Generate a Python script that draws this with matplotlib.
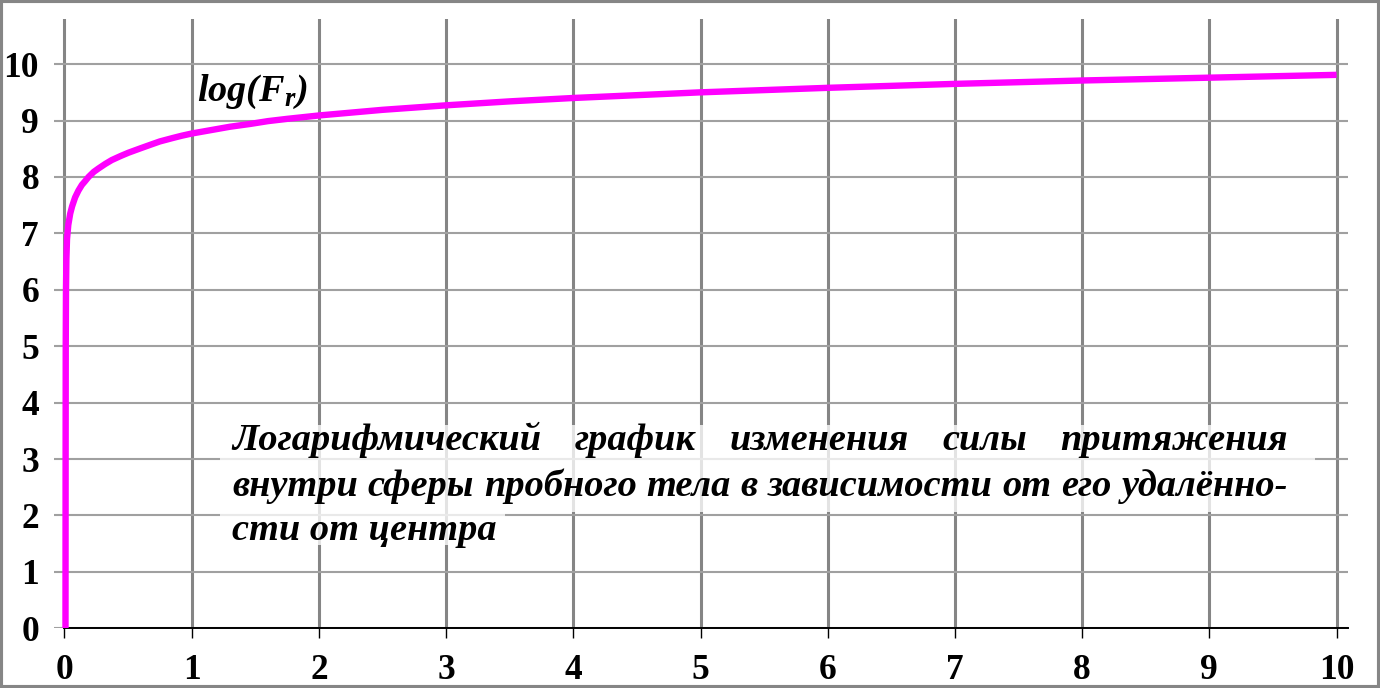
import matplotlib
matplotlib.use("Agg")
import matplotlib.pyplot as plt
import matplotlib.transforms as mtransforms
from matplotlib.patches import Rectangle

# ---- data ----
r_values = [0.008, 0.009, 0.010, 0.012, 0.015, 0.020, 0.030, 0.045, 0.060, 0.084,
            0.11, 0.137, 0.16, 0.189, 0.23, 0.267, 0.32, 0.372, 0.44, 0.503,
            0.60, 0.687, 0.75, 0.85, 0.92, 1.0, 1.1, 1.2, 1.3, 1.46,
            1.6, 1.75, 2.0, 2.25, 2.5, 2.75, 3.0, 3.5, 4.0, 4.5,
            5.0, 6.0, 7.0, 8.0, 9.0, 10.0]
log_f = [0.0, 3.0, 5.0, 6.0, 6.55, 6.9, 7.15, 7.35, 7.48, 7.64,
         7.76, 7.86, 7.92, 8.0, 8.09, 8.15, 8.23, 8.30, 8.37, 8.43,
         8.51, 8.58, 8.63, 8.69, 8.73, 8.77, 8.81, 8.85, 8.89, 8.94,
         8.99, 9.03, 9.09, 9.14, 9.19, 9.23, 9.27, 9.34, 9.40, 9.45,
         9.50, 9.58, 9.65, 9.71, 9.76, 9.81]
x_ticks = [0, 1, 2, 3, 4, 5, 6, 7, 8, 9, 10]
y_ticks = [0, 1, 2, 3, 4, 5, 6, 7, 8, 9, 10]
curve_label = r"log(F$_{r}$)"
caption_lines = [
    "Логарифмический график изменения силы притяжения",
    "внутри сферы пробного тела в зависимости от его удалённо-",
    "сти от центра",
]

plt.rcParams["mathtext.fontset"] = "custom"
plt.rcParams["mathtext.it"] = "Liberation Serif:italic:bold"
plt.rcParams["mathtext.rm"] = "Liberation Serif:bold"
plt.rcParams["mathtext.bf"] = "Liberation Serif:bold"

W, H = 1380, 688
fig = plt.figure(figsize=(W / 100, H / 100), dpi=100)
fig.patch.set_facecolor("white")

ax_left_px, ax_right_px, ax_top_px, ax_bot_px = 54.3, 1348.0, 19.0, 628.3
ax = fig.add_axes([ax_left_px / W, 1 - ax_bot_px / H,
                   (ax_right_px - ax_left_px) / W, (ax_bot_px - ax_top_px) / H])
ax.set_xlim(-0.08, 10.09)
ax.set_ylim(0, 10.8)
ax.set_facecolor("white")

# grid
ax.set_axisbelow(True)
ax.set_xticks(x_ticks)
ax.set_yticks(y_ticks)
ax.xaxis.grid(True, color="#858585", linewidth=2.2)
ax.yaxis.grid(True, color="#a0a0a0", linewidth=1.5)

for s in ["left", "top", "right"]:
    ax.spines[s].set_visible(False)
ax.spines["bottom"].set_color("black")
ax.spines["bottom"].set_linewidth(1.4)
ax.spines["bottom"].set_bounds(0, 10.09)
ax.spines["bottom"].set_zorder(3)

tick_font = dict(family="Liberation Serif", weight="bold", size=25.5)
ax.set_xticklabels([str(v) for v in x_ticks], **tick_font)
ax.set_yticklabels([str(v) for v in y_ticks], **tick_font)
ax.tick_params(axis="x", direction="out", length=7.2, width=1.0, color="black", pad=11)
ax.tick_params(axis="y", length=0, pad=11)

# curve
ax.plot(r_values, log_f, color="#ff00ff", linewidth=4.6, solid_capstyle="butt",
        solid_joinstyle="round", zorder=4)

# semi-transparent white background behind caption
def px2data(px, py):
    return ax.transData.inverted().transform((px, H - py))

fig.canvas.draw()
(bx0, by0) = px2data(220, 512)
(bx1, by1) = px2data(1315, 425)
ax.add_patch(Rectangle((bx0, by0), bx1 - bx0, by1 - by0, facecolor="white",
                       edgecolor="none", alpha=0.78, zorder=2.5))
(cx0, cy0) = px2data(220, 545)
(cx1, cy1) = px2data(505, 512)
ax.add_patch(Rectangle((cx0, cy0), cx1 - cx0, cy1 - cy0, facecolor="white",
                       edgecolor="none", alpha=0.78, zorder=2.5))

# curve label
lx, ly = px2data(197, 101)
ax.text(lx, ly, curve_label, family="Liberation Serif", weight="bold",
        style="italic", size=27.5, va="baseline", ha="left", zorder=5)

# caption (justified lines); font size fitted so line 2 fills its width
renderer = fig.canvas.get_renderer()
ident = mtransforms.IdentityTransform()
left_px, right_px = 232, 1288
base_size = 25.0
probe = fig.text(0, 0, caption_lines[1], transform=ident, family="Liberation Serif",
                 weight="bold", style="italic", size=base_size)
natural = probe.get_window_extent(renderer).width
probe.remove()
cap_size = base_size * (right_px - left_px) / natural
cap_font = dict(family="Liberation Serif", weight="bold", style="italic", size=cap_size)
baselines = [450, 495.5, 540]
for i, (line, bl) in enumerate(zip(caption_lines, baselines)):
    words = line.split(" ")
    if i < 2:
        arts = [fig.text(0, 0, w, transform=ident, va="baseline", ha="left",
                         zorder=6, **cap_font) for w in words]
        widths = [a.get_window_extent(renderer).width for a in arts]
        gap = (right_px - left_px - sum(widths)) / (len(words) - 1)
        x = left_px
        for a, w in zip(arts, widths):
            a.set_position((x, H - bl))
            x += w + gap
    else:
        fig.text(left_px, H - bl, line, transform=ident, va="baseline", ha="left",
                 zorder=6, **cap_font)

# outer frame
fig.add_artist(Rectangle((0, 0), 1, 1, transform=fig.transFigure, fill=False,
                         edgecolor="#868686", linewidth=4.4, zorder=10))

fig.savefig("out.png", dpi=100, facecolor="white")
